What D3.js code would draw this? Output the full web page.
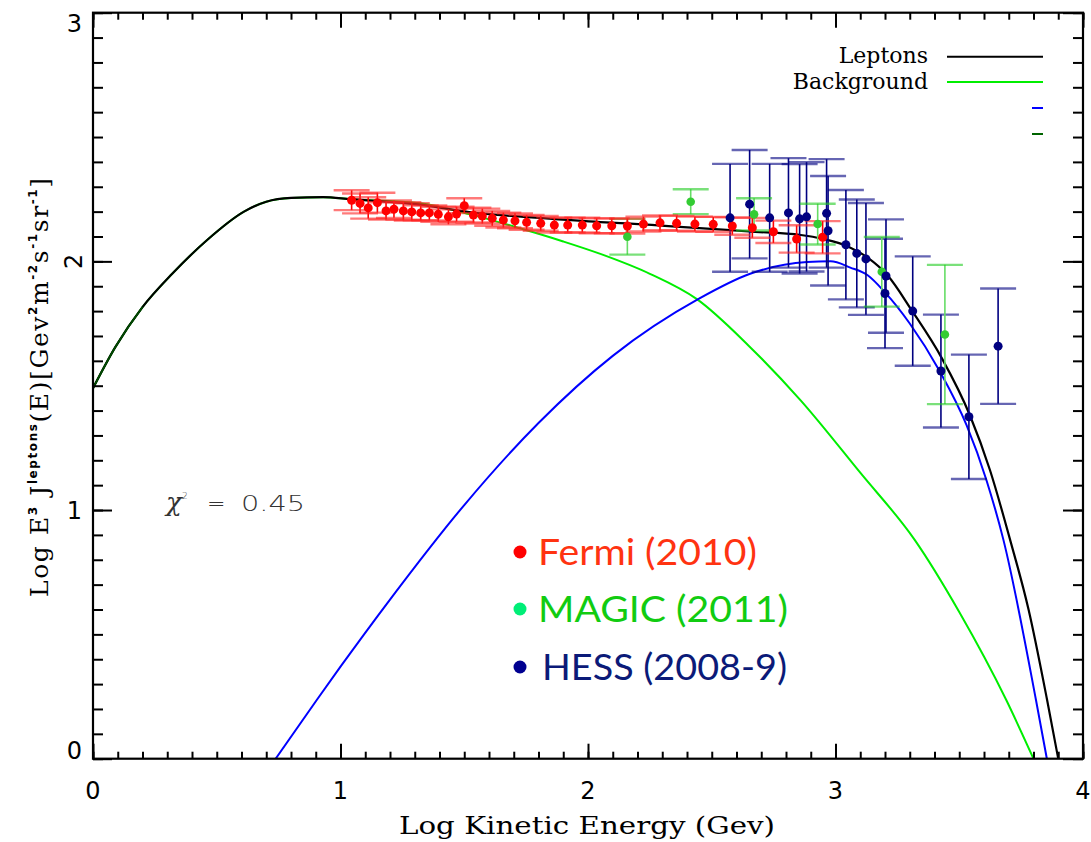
<!DOCTYPE html>
<html>
<head>
<meta charset="utf-8">
<script src="https://cdn.jsdelivr.net/npm/d3@7"></script>
<style>
  body { margin: 0; background: #fff; }
</style>
</head>
<body>
<script>
// model curves (log10 E, log E^3 J)
const leptonX = [0, 0.09, 0.2, 0.32, 0.46, 0.61, 0.7, 0.8, 0.93, 1.04, 1.32, 1.52, 1.8, 2.05, 2.13, 2.45, 2.65, 2.86, 2.95, 3.05, 3.13, 3.21, 3.31, 3.43, 3.543, 3.624, 3.705, 3.78, 3.855, 3.90];
const leptonY = [1.49, 1.655, 1.816, 1.95, 2.085, 2.20, 2.24, 2.255, 2.258, 2.25, 2.228, 2.198, 2.175, 2.158, 2.154, 2.134, 2.12, 2.106, 2.09, 2.06, 2.015, 1.944, 1.80, 1.61, 1.381, 1.161, 0.882, 0.60, 0.236, 0];

const bgX = [0, 0.09, 0.2, 0.32, 0.46, 0.61, 0.7, 0.8, 0.93, 1.04, 1.32, 1.52, 1.725, 1.9, 2.05, 2.25, 2.44, 2.65, 2.86, 3.1, 3.32, 3.5, 3.69, 3.80];
const bgY = [1.49, 1.655, 1.816, 1.95, 2.085, 2.20, 2.24, 2.255, 2.258, 2.25, 2.234, 2.19, 2.133, 2.08, 2.03, 1.95, 1.848, 1.66, 1.44, 1.15, 0.88, 0.59, 0.236, 0];

const srcX = [0.738, 0.904, 1.0, 1.2, 1.5, 1.8, 2.1, 2.445, 2.655, 2.885, 2.98, 3.06, 3.13, 3.20, 3.30, 3.42, 3.53, 3.61, 3.678, 3.81, 3.854];
const srcY = [0, 0.236, 0.37, 0.64, 1.02, 1.35, 1.62, 1.848, 1.95, 1.997, 2.0, 1.975, 1.944, 1.875, 1.75, 1.56, 1.34, 1.12, 0.882, 0.236, 0];

const secX = [0, 0.09, 0.2];
const secY = [1.49, 1.655, 1.816];

// measurements
const fermiX = [1.045, 1.079, 1.112, 1.149, 1.184, 1.216, 1.254, 1.288, 1.324, 1.359, 1.395, 1.436, 1.469, 1.50, 1.537, 1.573, 1.613, 1.658, 1.705, 1.752, 1.809, 1.864, 1.918, 1.977, 2.035, 2.096, 2.159, 2.224, 2.291, 2.358, 2.432, 2.506, 2.583, 2.664, 2.749, 2.843, 2.948];
const fermiY = [2.246, 2.233, 2.215, 2.236, 2.203, 2.21, 2.203, 2.199, 2.195, 2.195, 2.189, 2.179, 2.19, 2.224, 2.186, 2.182, 2.173, 2.166, 2.163, 2.157, 2.153, 2.146, 2.146, 2.146, 2.143, 2.143, 2.142, 2.15, 2.155, 2.153, 2.15, 2.149, 2.142, 2.135, 2.119, 2.09, 2.097];
const fermiErr = [0.04, 0.04, 0.043, 0.04, 0.035, 0.035, 0.035, 0.035, 0.03, 0.03, 0.03, 0.03, 0.03, 0.03, 0.03, 0.03, 0.03, 0.03, 0.03, 0.03, 0.03, 0.03, 0.03, 0.03, 0.03, 0.03, 0.03, 0.03, 0.03, 0.03, 0.03, 0.03, 0.035, 0.04, 0.045, 0.055, 0.065];

const magicX = [2.159, 2.415, 2.671, 2.928, 3.187, 3.442];
const magicY = [2.099, 2.24, 2.189, 2.15, 1.958, 1.706];
const magicErr = [0.072, 0.05, 0.065, 0.082, 0.14, 0.28];

const hessX = [2.574, 2.653, 2.734, 2.81, 2.855, 2.883, 2.964, 2.97, 3.042, 3.086, 3.123, 3.204, 3.20, 3.312, 3.426, 3.539, 3.657];
const hessY = [2.175, 2.23, 2.175, 2.195, 2.171, 2.179, 2.193, 2.123, 2.067, 2.032, 2.01, 1.941, 1.871, 1.80, 1.559, 1.375, 1.659];
const hessErr = [0.217, 0.218, 0.217, 0.22, 0.22, 0.22, 0.218, 0.22, 0.22, 0.217, 0.225, 0.228, 0.22, 0.22, 0.227, 0.25, 0.232];

const xTicks = [0, 1, 2, 3, 4];
const yTicks = [0, 1, 2, 3];

const svg = d3.select('body').append('svg')
    .attr('width', 1091)
    .attr('height', 842);

const x = d3.scaleLinear().domain([0, 4]).range([93, 1083]);
const y = d3.scaleLinear().domain([0, 3]).range([758.7, 12.7]);

svg.append('clipPath').attr('id', 'plot')
    .append('rect')
    .attr('x', x(0)).attr('y', y(3))
    .attr('width', x(4) - x(0)).attr('height', y(0) - y(3));

// curves
const line = d3.line()
    .x(d => x(d[0]))
    .y(d => y(d[1]))
    .curve(d3.curveMonotoneX);

const curves = svg.append('g').attr('clip-path', 'url(#plot)').attr('fill', 'none');
curves.append('path').attr('d', line(d3.zip(bgX, bgY))).attr('stroke', '#00ee00').attr('stroke-width', 2);
curves.append('path').attr('d', line(d3.zip(srcX, srcY))).attr('stroke', '#0000ff').attr('stroke-width', 2);
curves.append('path').attr('d', line(d3.zip(leptonX, leptonY))).attr('stroke', '#000').attr('stroke-width', 2.2);
curves.append('path').attr('d', line(d3.zip(secX, secY))).attr('stroke', '#004d00').attr('stroke-width', 1.6);

// error bars
function errorBars(xs, ys, es, barColor, capColor) {
    const g = svg.append('g');
    const data = d3.zip(xs, ys, es);
    g.selectAll('line.v').data(data).enter().append('line')
        .attr('x1', d => x(d[0])).attr('x2', d => x(d[0]))
        .attr('y1', d => y(d[1] - d[2])).attr('y2', d => y(d[1] + d[2]))
        .attr('stroke', barColor).attr('stroke-width', 1.6);
    [-1, 1].forEach(s => {
        g.selectAll('line.c' + s).data(data).enter().append('line')
            .attr('x1', d => x(d[0]) - 18).attr('x2', d => x(d[0]) + 18)
            .attr('y1', d => y(d[1] + s * d[2])).attr('y2', d => y(d[1] + s * d[2]))
            .attr('stroke', capColor).attr('stroke-width', 2.4).attr('stroke-opacity', 0.6);
    });
}
function dots(xs, ys, color, r) {
    svg.append('g').selectAll('circle')
        .data(d3.zip(xs, ys))
        .enter().append('circle')
        .attr('cx', d => x(d[0])).attr('cy', d => y(d[1]))
        .attr('r', r).attr('fill', color);
}

errorBars(hessX, hessY, hessErr, '#000080', '#000080');
errorBars(magicX, magicY, magicErr, '#66dd66', '#22cc22');
errorBars(fermiX, fermiY, fermiErr, '#ff0000', '#ff2222');
dots(fermiX, fermiY, '#ff0000', 4.5);
dots(magicX, magicY, '#33cc33', 4.3);
dots(hessX, hessY, '#000080', 4.5);

// frame and ticks
svg.append('rect')
    .attr('x', x(0)).attr('y', y(3))
    .attr('width', x(4) - x(0)).attr('height', y(0) - y(3))
    .attr('fill', 'none').attr('stroke', '#000').attr('stroke-width', 2.2);

function ticks(axis, transform) {
    const g = svg.append('g').attr('transform', transform).call(axis);
    g.select('.domain').remove();
    g.selectAll('line').attr('stroke', '#000').attr('stroke-width', 2);
    g.selectAll('text').remove();
}
ticks(d3.axisBottom(x).ticks(40).tickSize(-7), `translate(0,${y(0)})`);
ticks(d3.axisBottom(x).tickValues(xTicks).tickSize(-15), `translate(0,${y(0)})`);
ticks(d3.axisTop(x).ticks(40).tickSize(-7), `translate(0,${y(3)})`);
ticks(d3.axisTop(x).tickValues(xTicks).tickSize(-15), `translate(0,${y(3)})`);
ticks(d3.axisLeft(y).ticks(30).tickSize(-10), `translate(${x(0)},0)`);
ticks(d3.axisLeft(y).tickValues(yTicks).tickSize(-19), `translate(${x(0)},0)`);
ticks(d3.axisRight(y).ticks(30).tickSize(-10), `translate(${x(4)},0)`);
ticks(d3.axisRight(y).tickValues(yTicks).tickSize(-20), `translate(${x(4)},0)`);

// tick labels
svg.append('g').selectAll('text')
    .data(xTicks).enter().append('text')
    .attr('x', d => x(d)).attr('y', 799)
    .attr('text-anchor', 'middle')
    .style('font-family', 'DejaVu Sans').style('font-size', '24px')
    .text(d => d);

svg.append('g').selectAll('text')
    .data(yTicks).enter().append('text')
    .attr('transform', (d, i) => {
        if (i === 0) return `translate(82,${y(d)})`;
        if (i === yTicks.length - 1) return `translate(82,${y(d) + 19.5})`;
        if (d === 2) return `translate(82,${y(d)}) rotate(-90) translate(0,0)`;
        return `translate(82,${y(d) + 8.5})`;
    })
    .attr('text-anchor', d => d === 2 ? 'middle' : 'end')
    .style('font-family', 'DejaVu Sans').style('font-size', '24px')
    .text(d => d);

// axis titles
svg.append('text')
    .attr('x', 399).attr('y', 834)
    .attr('textLength', 376).attr('lengthAdjust', 'spacingAndGlyphs')
    .style('font-family', 'DejaVu Serif').style('font-size', '25px')
    .text('Log Kinetic Energy (Gev)');

const yt = svg.append('text')
    .attr('transform', 'translate(48,597) rotate(-90)')
    .attr('textLength', 419).attr('lengthAdjust', 'spacing')
    .style('font-family', 'DejaVu Serif').style('font-size', '25px');
const ytParts = [
    ['Log E', 0], ['3', 1], [' J', 0], ['leptons', 1], ['(E)[Gev', 0], ['2', 1],
    ['m', 0], ['-2', 1], ['s', 0], ['-1', 1], ['sr', 0], ['-1', 1], [']', 0]
];
let up = false;
ytParts.forEach(p => {
    const t = yt.append('tspan').text(p[0]);
    if (p[1] === 1) {
        t.attr('dy', up ? 0 : -11).style('font-size', '12px').style('font-weight', 'bold')
            .style('font-family', 'DejaVu Sans');
        up = true;
    } else {
        t.attr('dy', up ? 11 : 0);
        up = false;
    }
});

// model legend
const legendNames = ['Leptons', 'Background', '', ''];
const legendColors = ['#000', '#00ee00', '#0000ff', '#006400'];
const legendRows = [56.7, 82, 108, 134];
svg.append('g').selectAll('text')
    .data(legendNames).enter().append('text')
    .attr('x', 928).attr('y', (d, i) => legendRows[i] + 6.5)
    .attr('text-anchor', 'end')
    .style('font-family', 'DejaVu Serif').style('font-size', '22px')
    .text(d => d);
svg.append('g').selectAll('line')
    .data(legendNames).enter().append('line')
    .attr('x1', d => d ? 947 : 1032).attr('x2', 1043)
    .attr('y1', (d, i) => legendRows[i]).attr('y2', (d, i) => legendRows[i])
    .attr('stroke', (d, i) => legendColors[i]).attr('stroke-width', 2);

// chi-square
const chi = svg.append('text')
    .attr('y', 511)
    .style('font-family', 'DejaVu Sans').style('font-size', '22px')
    .style('font-weight', 300)
    .attr('fill', '#333');
chi.append('tspan').attr('x', 166).text('χ').style('font-style', 'italic').style('font-family', 'DejaVu Serif').style('font-size', '26px');
chi.append('tspan').attr('x', 182).attr('dy', -12).text('2').style('font-size', '9px');
chi.append('tspan').attr('x', 207).attr('dy', 12).text('=');
chi.append('tspan').attr('x', 241).attr('textLength', 64).attr('lengthAdjust', 'spacingAndGlyphs').text('0.45');

// data legend
const expNames = ['Fermi (2010)', 'MAGIC (2011)', 'HESS (2008-9)'];
const expText = ['#ff3311', '#11cc11', '#0b1a78'];
const expDot = ['#ff0000', '#00ee77', '#000090'];
const expRows = [565, 622, 680];
const expWidths = [219, 250, 245];
const eg = svg.append('g');
eg.selectAll('circle').data(expNames).enter().append('circle')
    .attr('cx', 520).attr('cy', (d, i) => expRows[i] - 13)
    .attr('r', 6.5).attr('fill', (d, i) => expDot[i]);
eg.selectAll('text').data(expNames).enter().append('text')
    .attr('x', (d, i) => i === 2 ? 542 : 538).attr('y', (d, i) => expRows[i])
    .attr('textLength', (d, i) => expWidths[i]).attr('lengthAdjust', 'spacingAndGlyphs')
    .attr('fill', (d, i) => expText[i])
    .style('font-family', 'Lato').style('font-size', '37px')
    .text(d => d);
</script>
</body>
</html>
